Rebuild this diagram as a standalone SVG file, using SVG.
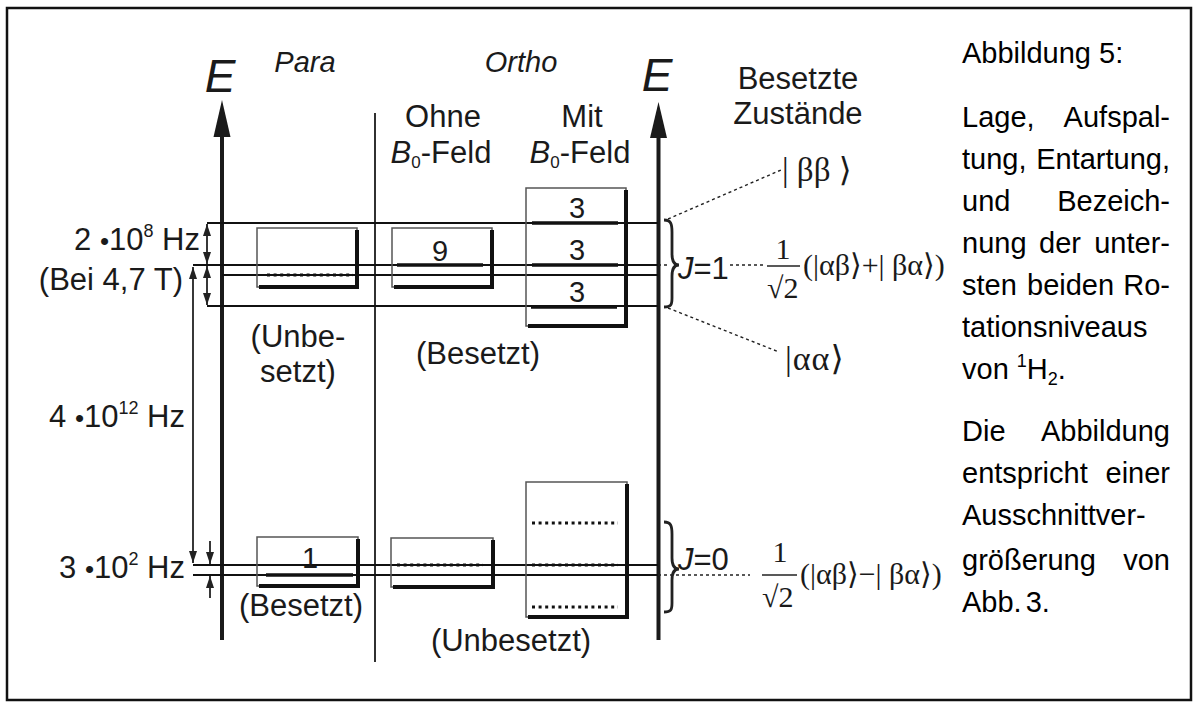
<svg xmlns="http://www.w3.org/2000/svg" width="1199" height="708" viewBox="0 0 1199 708">
<style>
.t{font-family:"Liberation Sans",Arial,sans-serif;fill:#1a1a1a;font-size:31px}
.c{font-family:"Liberation Sans",Arial,sans-serif;fill:#000;font-size:29px}
.s{font-family:"Liberation Serif","DejaVu Serif",serif;fill:#1a1a1a;font-size:30px}
.i{font-style:italic}
.m{text-anchor:middle}
.e{text-anchor:end}
.lvl{stroke:#111;stroke-width:1.8;fill:none}
.thk{stroke:#111;stroke-width:3.5;fill:none}
.dot{stroke:#111;stroke-width:3;stroke-dasharray:3 3.6;fill:none}
.dsh{stroke:#222;stroke-width:1.4;stroke-dasharray:3 3;fill:none}
.bx{fill:none;stroke:#555;stroke-width:1.5}
.sh{fill:none;stroke:#111;stroke-width:4}
.ax{stroke:#1a1a1a;stroke-width:4;fill:none}
.ar{stroke:#222;stroke-width:1.8;fill:none}
.br{stroke:#222;stroke-width:2.8;fill:none}
</style>
<defs>
<marker id="ah" viewBox="0 0 12 8" refX="12" refY="4" markerWidth="12" markerHeight="8" markerUnits="userSpaceOnUse" orient="auto-start-reverse"><path d="M0,0 L12,4 L0,8 z" fill="#222"/></marker>
</defs>
<rect x="7" y="8" width="1184" height="692" fill="none" stroke="#111" stroke-width="2.5"/>

<g id="axis-left">
<path class="ax" d="M222,134 V640"/>
<polygon points="222,100 213.5,137 230.5,137" fill="#1a1a1a"/>
<text class="t i m" x="220" y="92" style="font-size:46px">E</text>
</g>
<g id="axis-right">
<path class="ax" d="M658.5,135 V640"/>
<polygon points="658.5,102 650,138 667,138" fill="#1a1a1a"/>
<text class="t i m" x="657" y="91" style="font-size:46px">E</text>
</g>
<g id="separator"><path d="M375,113 V662" stroke="#1a1a1a" stroke-width="1.8"/></g>

<g id="headers">
<text class="t i m" x="305" y="72" style="font-size:29px">Para</text>
<text class="t i m" x="521" y="72" style="font-size:29px">Ortho</text>
<text class="t m" x="443" y="127">Ohne</text>
<text class="t m" x="441" y="163"><tspan class="i">B</tspan><tspan font-size="17" dy="5">0</tspan><tspan dy="-5">-Feld</tspan></text>
<text class="t m" x="582" y="127">Mit</text>
<text class="t m" x="580" y="163"><tspan class="i">B</tspan><tspan font-size="17" dy="5">0</tspan><tspan dy="-5">-Feld</tspan></text>
<text class="t m" x="798" y="89">Besetzte</text>
<text class="t m" x="798" y="124">Zustände</text>
</g>

<g id="connectors">
<path class="lvl" d="M207,223 H658 M193,265 H658 M222,275 H658 M207,306 H658 M193,565 H658 M193,575 H658"/>
<path class="dsh" d="M658,265 H668 M730,265 H765 M658,575 H750"/>
<path class="dsh" d="M668,219 L781,170 M668,308 L779,352"/>
<path class="ar" d="M207,224 V264" marker-start="url(#ah)" marker-end="url(#ah)"/>
<path class="ar" d="M207,266 V305" marker-start="url(#ah)" marker-end="url(#ah)"/>
<path class="ar" d="M193,267 V563" marker-start="url(#ah)" marker-end="url(#ah)"/>
<path class="ar" d="M210,541 V564" marker-end="url(#ah)"/>
<path class="ar" d="M210,598 V576" marker-end="url(#ah)"/>
</g>

<g id="left-labels">
<text class="t e" x="200" y="250">2 <tspan font-size="26">•</tspan>10<tspan font-size="18" dy="-13">8</tspan><tspan dy="13"> Hz</tspan></text>
<text class="t e" x="183" y="290">(Bei 4,7 T)</text>
<text class="t e" x="185" y="427">4 <tspan font-size="26">•</tspan>10<tspan font-size="18" dy="-13">12</tspan><tspan dy="13"> Hz</tspan></text>
<text class="t e" x="185" y="578">3 <tspan font-size="26">•</tspan>10<tspan font-size="18" dy="-13">2</tspan><tspan dy="13"> Hz</tspan></text>
</g>

<g id="para-j1">
<rect class="bx" x="257" y="228" width="100" height="59"/>
<path class="sh" d="M357,230 V287 H259"/>
<path class="dot" d="M267,275 H353"/>
<text class="t m" x="298" y="347">(Unbe-</text>
<text class="t m" x="298" y="382">setzt)</text>
</g>
<g id="ortho-j1-ohne">
<rect class="bx" x="392" y="228" width="100" height="59"/>
<path class="sh" d="M492,230 V287 H394"/>
<path class="thk" d="M397,265 H483"/>
<text class="t m" x="440" y="261" style="font-size:29px">9</text>
</g>
<g id="ortho-j1-mit">
<rect class="bx" x="526" y="188" width="100" height="138"/>
<path class="sh" d="M626,190 V326 H528"/>
<path class="thk" d="M532,223 H618 M532,265 H618 M531,307 H617"/>
<text class="t m" x="577" y="218" style="font-size:29px">3</text>
<text class="t m" x="577" y="260" style="font-size:29px">3</text>
<text class="t m" x="577" y="302" style="font-size:29px">3</text>
<text class="t m" x="478" y="364">(Besetzt)</text>
</g>

<g id="para-j0">
<rect class="bx" x="257" y="537" width="101" height="49"/>
<path class="sh" d="M358,539 V586 H259"/>
<path class="thk" d="M266,575 H353"/>
<text class="t m" x="310" y="568" style="font-size:29px">1</text>
<text class="t m" x="301" y="616">(Besetzt)</text>
</g>
<g id="ortho-j0-ohne">
<rect class="bx" x="391" y="538" width="102" height="49"/>
<path class="sh" d="M493,540 V587 H393"/>
<path class="dot" d="M397,565 H483"/>
</g>
<g id="ortho-j0-mit">
<rect class="bx" x="526" y="482" width="101" height="135"/>
<path class="sh" d="M627,484 V617 H528"/>
<path class="dot" d="M532,523 H618 M532,565 H618 M532,607 H618"/>
<text class="t m" x="511" y="651">(Unbesetzt)</text>
</g>

<g id="states-j1">
<path class="br" d="M664,220 C671,220 672,224 672,232 L672,254 C672,262 675,265 679,265 C675,265 672,268 672,276 L672,298 C672,305 671,307 664,307"/>
<text class="t" x="678" y="279"><tspan class="i">J</tspan>=1</text>
<text class="s" x="782" y="181" style="font-size:33px">| ββ ⟩</text>
<text class="s m" x="783" y="259">1</text>
<path d="M767,266 H800" stroke="#222" stroke-width="1.5"/>
<text class="s" x="767" y="298">√2</text>
<text class="s" x="803" y="275">(|αβ⟩+| βα⟩)</text>
<text class="s" x="785" y="370" style="font-size:34px;letter-spacing:1px">|αα⟩</text>
</g>
<g id="states-j0">
<path class="br" d="M664,522 C671,522 672,526 672,534 L672,558 C672,566 675,569 679,569 C675,569 672,572 672,580 L672,603 C672,610 671,612 664,612"/>
<text class="t" x="678" y="570"><tspan class="i">J</tspan>=0</text>
<text class="s m" x="780" y="562">1</text>
<path d="M762,575 H797" stroke="#222" stroke-width="1.5"/>
<text class="s" x="762" y="607">√2</text>
<text class="s" x="800" y="584">(|αβ⟩−| βα⟩)</text>
</g>

<g id="caption">
<text class="c" x="962" y="63">Abbildung 5:</text>
<text class="c" x="962" y="127">Lage,</text><text class="c e" x="1170" y="127">Aufspal-</text>
<text class="c" x="962" y="169">tung,</text><text class="c e" x="1170" y="169">Entartung,</text>
<text class="c" x="962" y="211">und</text><text class="c e" x="1170" y="211">Bezeich-</text>
<text class="c" x="962" y="253">nung</text><text class="c" x="1039" y="253">der</text><text class="c e" x="1170" y="253">unter-</text>
<text class="c" x="962" y="295">sten</text><text class="c" x="1027" y="295">beiden</text><text class="c e" x="1170" y="295">Ro-</text>
<text class="c" x="962" y="337">tationsniveaus</text>
<text class="c" x="962" y="379">von <tspan font-size="18" dy="-12">1</tspan><tspan dy="12">H</tspan><tspan font-size="18" dy="6">2</tspan><tspan dy="-6">.</tspan></text>
<text class="c" x="962" y="441">Die</text><text class="c e" x="1170" y="441">Abbildung</text>
<text class="c" x="962" y="483">entspricht</text><text class="c e" x="1170" y="483">einer</text>
<text class="c" x="962" y="525">Ausschnittver-</text>
<text class="c" x="962" y="570">größerung</text><text class="c e" x="1170" y="570">von</text>
<text class="c" x="962" y="612">Abb.<tspan dx="4">3.</tspan></text>
</g>
</svg>
